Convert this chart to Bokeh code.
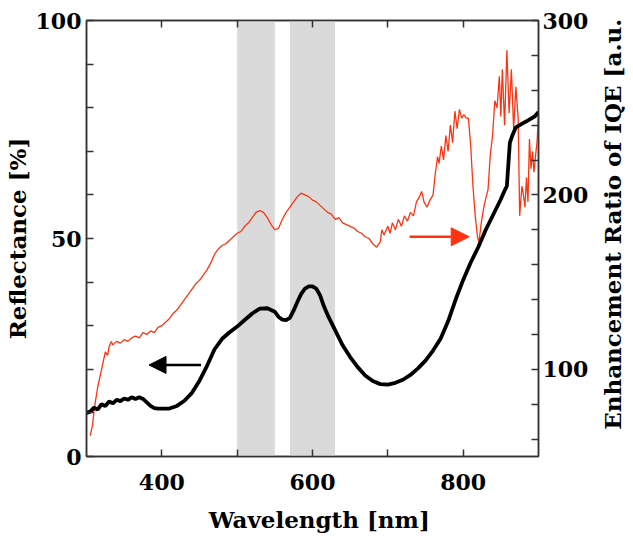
import math
from bokeh.plotting import figure
from bokeh.layouts import row, column
from bokeh.models import (Range1d, LinearAxis, FixedTicker, BoxAnnotation, Arrow,
                          NormalHead, ColumnDataSource)
from bokeh.core.properties import value
from bokeh.embed import file_html
from bokeh.resources import INLINE

# ---------------- data ----------------
refl_wl = [300, 305, 310, 315, 320, 325, 330, 335, 340, 345, 350, 355, 360, 365, 370, 375,
           380, 385, 390, 395, 400, 410, 420, 430, 440, 450, 460, 470, 480, 490, 500, 510,
           520, 530, 540, 550, 555, 560, 565, 570, 575, 580, 585, 590, 595, 600, 605, 610,
           615, 620, 630, 640, 650, 660, 670, 680, 690, 700, 710, 720, 730, 740, 750, 760,
           770, 780, 790, 800, 810, 820, 830, 840, 850, 855, 858, 860, 862, 865, 870, 875,
           880, 885, 890, 895, 900]
reflectance = [10.0, 10.3, 11.2, 10.8, 12.0, 11.6, 12.6, 12.2, 13.0, 12.7, 13.3, 13.0, 13.6,
               13.2, 13.6, 13.2, 12.4, 11.6, 11.1, 11.0, 11.0, 11.0, 11.6, 12.8, 14.6, 17.4,
               20.8, 24.6, 27.0, 28.5, 29.8, 31.3, 32.8, 33.9, 34.0, 33.2, 32.0, 31.4, 31.3,
               31.8, 33.5, 35.5, 37.3, 38.5, 39.0, 39.0, 38.5, 37.0, 34.5, 32.5, 29.0, 25.5,
               22.8, 20.5, 18.6, 17.3, 16.6, 16.5, 16.9, 17.6, 18.7, 20.2, 22.0, 24.3, 27.0,
               31.0, 36.0, 40.5, 44.5, 48.0, 52.0, 55.5, 59.0, 61.0, 62.0, 67.0, 72.0, 73.5,
               75.5, 76.0, 76.5, 77.0, 77.5, 78.0, 79.0]

iqe_wl = [305, 308, 310, 312, 315, 318, 320, 323, 325, 328, 330, 333, 335, 340, 345, 350,
          355, 360, 365, 370, 375, 380, 385, 390, 395, 400, 405, 410, 415, 420, 425, 430,
          435, 440, 445, 450, 455, 460, 465, 470, 475, 480, 485, 490, 495, 500, 505, 510,
          515, 520, 525, 530, 535, 540, 545, 550, 555, 560, 565, 570, 575, 580, 585, 590,
          595, 600, 605, 610, 615, 620, 625, 630, 635, 640, 645, 650, 655, 660, 665, 670,
          675, 680, 685, 690, 692, 695, 700, 703, 706, 710, 714, 718, 722, 726, 730, 734,
          738, 742, 745, 748, 752, 756, 760, 763, 766, 768, 771, 774, 777, 780, 783, 786,
          789, 792, 795, 798, 801, 804, 807, 810, 813, 816, 819, 821, 824, 827, 830, 833,
          836, 839, 842, 845, 848, 850, 852, 855, 858, 861, 864, 867, 870, 873, 875, 878,
          880, 882, 884, 886, 888, 890, 892, 894, 896, 898, 900]
iqe_ratio = [62, 68, 76, 82, 90, 96, 100, 106, 110, 108, 113, 116, 114, 116, 115, 117,
             116, 118, 119, 118, 121, 120, 122, 121, 124, 125, 127, 129, 132, 134, 137, 140,
             143, 146, 149, 151, 154, 157, 161, 166, 169, 171, 172, 174, 176, 178, 179, 182,
             184, 187, 190, 191, 190, 187, 183, 180, 181, 186, 190, 193, 196, 199, 201, 200,
             199, 197, 196, 194, 192, 190, 189, 186, 187, 184, 183, 182, 181, 179, 178, 176,
             175, 172, 170, 173, 180, 177, 182, 178, 184, 180, 186, 182, 188, 185, 190, 188,
             196, 199, 202, 196, 193, 197, 200, 212, 222, 218, 228, 220, 234, 225, 240, 230,
             248, 238, 249, 244, 246, 244, 244, 228, 205, 188, 176, 173, 184, 192, 198, 203,
             223, 234, 254, 250, 268, 245, 272, 240, 283, 247, 272, 238, 262, 244, 188, 205,
             200, 193, 210, 196, 232, 215, 225, 213, 222, 230, 246]

band_start = [500, 570]
band_end = [550, 630]

x_major = [400, 600, 800]
x_minor = [500, 700]
x_all = [400, 500, 600, 700, 800]
left_major = [0, 50, 100]
left_minor = [10, 20, 30, 40, 60, 70, 80, 90]
right_major = [100, 200, 300]
right_minor = [60, 80, 120, 140, 160, 180, 220, 240, 260, 280]

x_title = "Wavelength [nm]"
left_title = "Reflectance [%]"
right_title = "Enhancement Ratio of IQE [a.u.]"

# black arrow (left axis) and red arrow (right axis)
black_arrow = dict(x_start=452, x_end=383, y=21)
red_arrow = dict(x_start=729, x_end=808, y=176)

FONT = "DejaVu Serif"
TICK_SIZE = "22px"
LABEL_SIZE = "23px"
AXIS_COLOR = "#333333"

MAIN_W, MAIN_H = 591, 507

p = figure(width=MAIN_W, height=MAIN_H, output_backend="svg", toolbar_location=None,
           x_range=Range1d(300, 900), y_range=Range1d(0, 100),
           min_border_left=0, min_border_right=0, min_border_top=20, min_border_bottom=51)
p.extra_y_ranges = {"iqe": Range1d(50, 300)}
p.xgrid.visible = False
p.ygrid.visible = False
p.outline_line_color = AXIS_COLOR
p.outline_line_width = 1.5
p.background_fill_color = "white"
p.border_fill_color = "white"

for s, e in zip(band_start, band_end):
    p.add_layout(BoxAnnotation(left=s, right=e, fill_color="#dadada", fill_alpha=1.0,
                               line_color=None, level="underlay"))

src_r = ColumnDataSource(dict(x=refl_wl, y=reflectance))
src_i = ColumnDataSource(dict(x=iqe_wl, y=iqe_ratio))
p.line("x", "y", source=src_i, line_color="#ff3311", line_width=1.3, y_range_name="iqe")
p.line("x", "y", source=src_r, line_color="black", line_width=3.8)

p.add_layout(Arrow(x_start=black_arrow["x_start"], x_end=black_arrow["x_end"],
                   y_start=black_arrow["y"], y_end=black_arrow["y"],
                   line_color="black", line_width=2.5,
                   end=NormalHead(size=17, fill_color="black", line_color="black")))
p.add_layout(Arrow(x_start=red_arrow["x_start"], x_end=red_arrow["x_end"],
                   y_start=red_arrow["y"], y_end=red_arrow["y"], y_range_name="iqe",
                   line_color="#ff3311", line_width=2.5,
                   end=NormalHead(size=18, fill_color="#ff3311", line_color="#ff3311")))


def style(ax, major, minor):
    ax.ticker = FixedTicker(ticks=major, minor_ticks=minor)
    ax.major_tick_in = 7
    ax.major_tick_out = 0
    ax.minor_tick_in = 7
    ax.minor_tick_out = 0
    ax.axis_line_color = AXIS_COLOR
    ax.axis_line_width = 1.5
    ax.major_tick_line_color = AXIS_COLOR
    ax.minor_tick_line_color = AXIS_COLOR
    ax.major_tick_line_width = 1.5
    ax.minor_tick_line_width = 1.5
    ax.major_label_text_font = FONT
    ax.major_label_text_font_style = "bold"
    ax.major_label_text_font_size = TICK_SIZE
    ax.major_label_text_color = "black"
    ax.axis_label_text_font = FONT
    ax.axis_label_text_font_style = "bold"
    ax.axis_label_text_font_size = LABEL_SIZE
    ax.axis_label_text_color = "black"


xax = p.xaxis[0]
style(xax, x_major, x_minor)
xax.major_label_standoff = 17

yax = p.yaxis[0]
style(yax, left_major, left_minor)
yax.axis_label = left_title
yax.major_label_standoff = 5
yax.axis_label_standoff = 2

top = LinearAxis()
style(top, [], x_all)
top.major_label_standoff = 0
p.add_layout(top, "above")

right = LinearAxis(y_range_name="iqe")
style(right, right_major, right_minor)
right.major_label_standoff = 4
p.add_layout(right, "right")


def text_panel(w, h, text, angle, tx, ty):
    f = figure(width=w, height=h, output_backend="svg", toolbar_location=None,
               x_range=Range1d(0, 1), y_range=Range1d(0, 1),
               x_axis_type=None, y_axis_type=None, min_border=0)
    f.xgrid.visible = False
    f.ygrid.visible = False
    f.outline_line_color = None
    f.background_fill_color = "white"
    f.border_fill_color = "white"
    f.text(x=[tx], y=[ty], text=[text], angle=angle,
           text_font=value(FONT), text_font_style="bold", text_font_size=value(LABEL_SIZE),
           text_color="black", text_align="center", text_baseline="middle")
    return f


p_right = text_panel(625 - MAIN_W, MAIN_H, right_title, math.pi / 2, 0.62, 0.545)
p_bottom = text_panel(625, 30, x_title, 0, 0.51, 0.6)

layout = column(row(p, p_right, spacing=0), p_bottom, spacing=0)
open("out.html", "w").write(file_html(layout, INLINE))
